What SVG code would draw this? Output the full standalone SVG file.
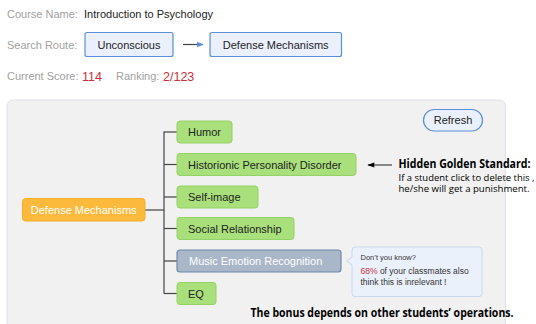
<svg xmlns="http://www.w3.org/2000/svg" width="536" height="324" viewBox="0 0 536 324">
<defs>
<style>
.lbl{font-family:"Liberation Sans",Arial,sans-serif;font-size:11px;fill:#a0a0a0}
.val{font-family:"Liberation Sans",Arial,sans-serif;font-size:11px;fill:#222}
.red{font-family:"Liberation Sans",Arial,sans-serif;font-size:12.5px;fill:#c8303c}
.route rect{fill:#eaf1fc;stroke:#5b8fd9;stroke-width:1.2}
.route text{font-family:"Liberation Sans",Arial,sans-serif;font-size:11px;fill:#222;text-anchor:middle}
.g rect{fill:#a9e07c;stroke:#93d264;stroke-width:1}
.g text{font-family:"Liberation Sans",Arial,sans-serif;font-size:11px;fill:#222}
.conn path{fill:none;stroke:#444;stroke-width:1.2}
.note{font-family:"Open Sans","Liberation Sans",sans-serif;fill:#000}
</style>
<marker id="ah" viewBox="0 0 10 10" refX="9" refY="5" markerWidth="7" markerHeight="7" orient="auto-start-reverse" markerUnits="userSpaceOnUse"><path d="M0,1 L10,5 L0,9 z" fill="#5b8fd9"/></marker>
<marker id="ak" viewBox="0 0 10 10" refX="9" refY="5" markerWidth="8" markerHeight="7" orient="auto-start-reverse" markerUnits="userSpaceOnUse"><path d="M0,1.5 L10,5 L0,8.5 z" fill="#000"/></marker>
</defs>
<rect width="536" height="324" fill="#fff"/>

<text class="lbl" x="7" y="17.5">Course Name:</text>
<text class="val" x="84" y="17.5">Introduction to Psychology</text>
<text class="lbl" x="7" y="48.5">Search Route:</text>
<text class="lbl" x="7" y="80">Current Score:</text>
<text class="red" x="82" y="80.5">114</text>
<text class="lbl" x="116" y="80">Ranking:</text>
<text class="red" x="163" y="80.5">2/123</text>

<g id="route-unconscious" class="route"><rect x="85" y="32.5" width="88" height="24" rx="2"/><text x="129" y="48.5">Unconscious</text></g>
<g id="route-defense" class="route"><rect x="210" y="32.5" width="131.5" height="24" rx="2"/><text x="275.7" y="48.5">Defense Mechanisms</text></g>

<rect id="panel" x="7" y="100" width="498.5" height="230" rx="6" fill="#f1f1f1" stroke="#dde1ec" stroke-width="1"/>

<g id="refresh"><rect x="423.5" y="109.5" width="59" height="21.5" rx="10.75" fill="#eaf1fc" stroke="#5b8fd9" stroke-width="1.2"/><text x="453" y="124" font-family="Liberation Sans,Arial,sans-serif" font-size="11" fill="#222" text-anchor="middle">Refresh</text></g>

<g class="conn" id="connectors">
<path d="M183,44.5 H203" stroke="#5b8fd9" stroke-width="1.5" marker-end="url(#ah)"/>
<path d="M145,210 H164"/>
<path d="M164,131.5 V293.5"/>
<path d="M164,132 H177"/>
<path d="M164,164.5 H177"/>
<path d="M164,197 H177"/>
<path d="M164,228.5 H177"/>
<path d="M164,261 H177"/>
<path d="M164,293.5 H177"/>
<path d="M392,165 H368" stroke="#000" stroke-width="1.3" marker-end="url(#ak)"/>
</g>

<g id="root"><rect x="22.5" y="198.5" width="122.5" height="22.5" rx="3" fill="#fbba3c" stroke="#f5ae2a"/><text x="83.7" y="213.8" font-family="Liberation Sans,Arial,sans-serif" font-size="11" fill="#fff" text-anchor="middle">Defense Mechanisms</text></g>

<g id="humor" class="g"><rect x="177" y="121" width="55" height="22" rx="3"/><text x="188" y="136">Humor</text></g>
<g id="hpd" class="g"><rect x="177" y="153.5" width="179" height="22" rx="3"/><text x="188" y="168.5">Historionic Personality Disorder</text></g>
<g id="selfimage" class="g"><rect x="177" y="186" width="81" height="22" rx="3"/><text x="188" y="201">Self-image</text></g>
<g id="social" class="g"><rect x="177" y="217.5" width="117" height="22" rx="3"/><text x="188" y="232.5">Social Relationship</text></g>
<g id="music"><rect x="177" y="250" width="164" height="22" rx="3" fill="#a9b7c9" stroke="#6f88ae" stroke-width="1.2"/><text x="189" y="265" font-family="Liberation Sans,Arial,sans-serif" font-size="11" fill="#fff">Music Emotion Recognition</text></g>
<g id="eq" class="g"><rect x="177" y="282.5" width="39" height="22" rx="3"/><text x="188" y="297.5">EQ</text></g>

<g id="tooltip">
<path d="M355,247 H479 Q482,247 482,250 V293.5 Q482,296.5 479,296.5 H355 Q352,296.5 352,293.5 V265 L346.5,261 L352,257 V250 Q352,247 355,247 Z" fill="#eaf1fb" stroke="#c9d8ee" stroke-width="1"/>
<text x="360.5" y="260" font-family="Liberation Sans,Arial,sans-serif" font-size="7.5" fill="#333">Don’t you know?</text>
<text x="360.5" y="273.5" font-family="Liberation Sans,Arial,sans-serif" font-size="8.5" fill="#333"><tspan fill="#c8303c">68%</tspan> of your classmates also</text>
<text x="360.5" y="284.5" font-family="Liberation Sans,Arial,sans-serif" font-size="8.5" fill="#333">think this is inrelevant !</text>
</g>

<text class="note" x="398.5" y="168" font-size="11.5" font-weight="bold" textLength="132" lengthAdjust="spacingAndGlyphs">Hidden Golden Standard:</text>
<text class="note" x="398.5" y="181" font-size="9.5" textLength="136" lengthAdjust="spacingAndGlyphs">If a student click to delete this ,</text>
<text class="note" x="398.5" y="192" font-size="9.5" textLength="131" lengthAdjust="spacingAndGlyphs">he/she will get a punishment.</text>
<text class="note" x="250.5" y="317" font-size="11.5" font-weight="bold" textLength="263" lengthAdjust="spacingAndGlyphs">The bonus depends on other students’ operations.</text>
</svg>
